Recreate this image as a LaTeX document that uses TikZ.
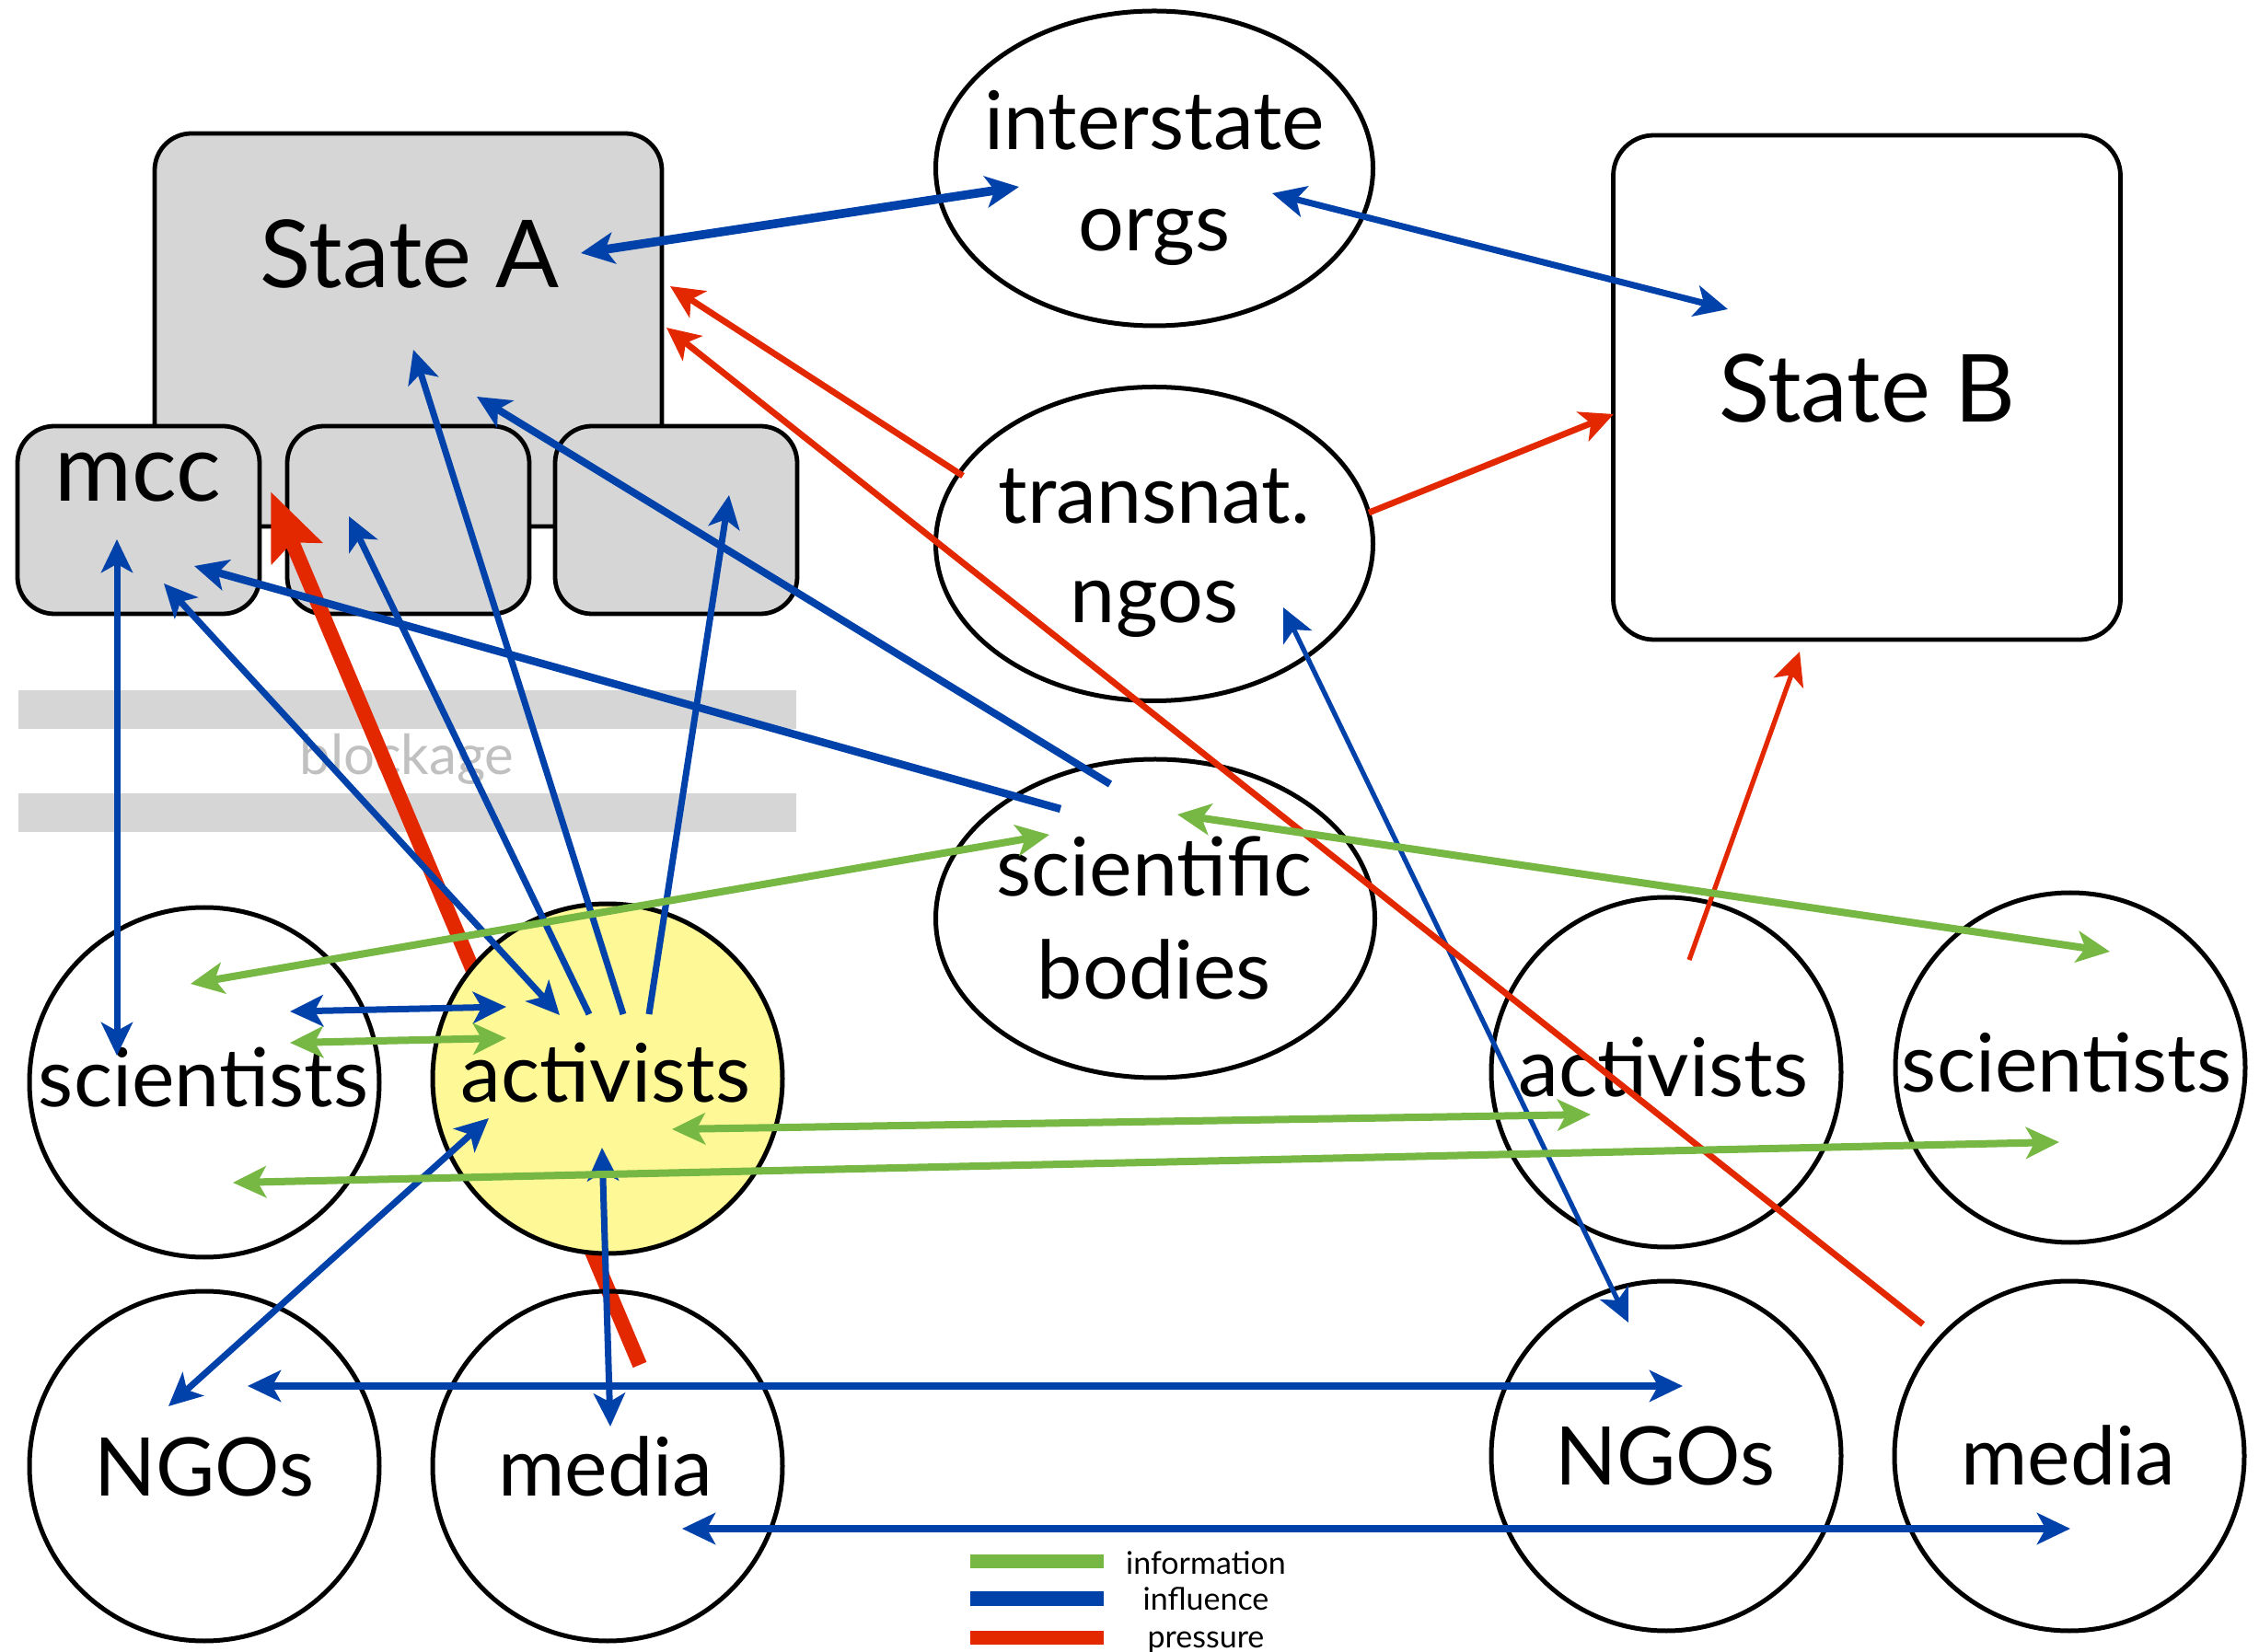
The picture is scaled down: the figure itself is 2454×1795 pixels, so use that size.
\documentclass[tikz,border=0pt]{standalone}
\usepackage{fontspec}
\setmainfont{Lato}
\usetikzlibrary{arrows.meta,shapes.geometric,calc}
\definecolor{cgreen}{RGB}{118,184,67}
\definecolor{cblue}{RGB}{0,65,170}
\definecolor{cred}{RGB}{227,40,0}
\definecolor{cgray}{RGB}{214,214,214}
\definecolor{cyel}{RGB}{254,248,150}
\definecolor{ctxt}{RGB}{192,192,192}
\pgfdeclarelayer{back}
\pgfdeclarelayer{mid}
\pgfsetlayers{back,mid,main}
\begin{document}
\begin{tikzpicture}[x=0.25pt,y=-0.25pt,
  >={Stealth[length=9pt,width=8.5pt,inset=2.3pt]},
  box/.style={draw=black,line width=1.2pt,fill=cgray,rounded corners=10pt,inner sep=0pt},
  oval/.style={draw=black,line width=1.25pt,ellipse,inner sep=0pt},
  circ/.style={oval,minimum width=95pt,minimum height=95pt},
  big/.style={font=\fontsize{25.5}{30}\selectfont,inner sep=0pt,anchor=base},
  lab/.style={font=\fontsize{22}{27.5}\selectfont,inner sep=0pt,anchor=base},
  blu/.style={draw=cblue,line width=1.75pt},
  grn/.style={draw=cgreen,line width=2pt},
  rd/.style={draw=cred,line width=1.7pt},
  band/.style={fill=cgray,inner sep=0pt,minimum width=211.25pt,minimum height=10.5pt},
  key/.style={inner sep=0pt,minimum width=36.25pt,minimum height=3.9pt},
  keytxt/.style={font=\fontsize{8.5}{10}\selectfont,inner sep=0pt,anchor=base}
]
\useasboundingbox (0,0) rectangle (2454,1795);
\begin{pgfonlayer}{back}
\fill[white] (0,0) rectangle (2454,1795);
\node[band] (band1) at (442.5,771) {};
\node[band] (band2) at (442.5,883) {};
\node[font=\fontsize{15}{18}\selectfont,text=ctxt,inner sep=0pt,anchor=base] (blk) at (442,842) {blockage};
\node[box,minimum width=137.75pt,minimum height=106.75pt] (stA) at (443.5,358.5) {};
\node[box,minimum width=65.75pt,minimum height=51pt] (mcc) at (150.5,565) {};
\node[box,minimum width=65.75pt,minimum height=51pt] (mB) at (443.5,565) {};
\node[box,minimum width=65.75pt,minimum height=51pt] (rB) at (734.5,565) {};
\end{pgfonlayer}

\node[big] (stAt) at (445,313) {State A};
\node[big] (mcct) at (150,545) {mcc};

\node[oval,minimum width=118.75pt,minimum height=85.5pt] (inter) at (1254,183) {};
\node[lab] (inter1) at (1254,163) {interstate};
\node[lab] (inter2) at (1254,273) {orgs};
\node[oval,minimum width=118.75pt,minimum height=85.25pt] (trans) at (1254,591) {};
\node[lab] (trans1) at (1254,569) {transnat.};
\node[lab] (trans2) at (1254,677) {ngos};
\node[box,fill=white,rounded corners=11pt,minimum width=137.75pt,minimum height=137pt] (stB) at (2028,421) {};
\node[big] (stBt) at (2028,459) {State B};
\node[oval,minimum width=119.25pt,minimum height=86.5pt] (scib) at (1255,998) {};
\node[lab] (scib1) at (1254,974) {scientific};
\node[lab] (scib2) at (1254,1086) {bodies};

\node[circ] (sciL) at (222,1176) {};
\node[lab] (sciLt) at (221,1203) {scientists};
\node[circ,fill=cyel] (actL) at (660,1172) {};
\node[lab] (actLt) at (658,1198) {activists};
\node[circ] (ngoL) at (222,1593) {};
\node[lab] (ngoLt) at (222,1625) {NGOs};
\node[circ] (medL) at (660,1593) {};
\node[lab] (medLt) at (658,1625) {media};
\node[circ] (actR) at (1810,1165) {};
\node[lab] (actRt) at (1807,1192) {activists};
\node[circ] (sciR) at (2249,1160) {};
\node[lab] (sciRt) at (2245,1187) {scientists};
\node[circ] (ngoR) at (1810,1582) {};
\node[lab] (ngoRt) at (1809,1613) {NGOs};
\node[circ] (medR) at (2248,1582) {};
\node[lab] (medRt) at (2247,1613) {media};

% legend
\node[key,fill=cgreen] (kg) at (1126.5,1696.5) {};
\node[key,fill=cblue] (kb) at (1126.5,1737) {};
\node[key,fill=cred] (kr) at (1126.5,1779.5) {};
\node[keytxt] (kgt) at (1310,1710) {information};
\node[keytxt] (kbt) at (1310,1749) {influence};
\node[keytxt] (krt) at (1310,1790) {pressure};

% thick pressure arrow under the activists circle
\begin{pgfonlayer}{mid}
\draw[draw=cred,line width=4pt,-{Stealth[length=18pt,width=14.5pt,inset=3pt]}] ($(medL)+(35,-110)$) -- ($(mcc)+(143.5,-31)$);
\end{pgfonlayer}

% influence
\draw[blu,line width=2.4pt,<->] ($(stA)+(187.5,-83.5)$) -- ($(inter)+(-147,20)$);
\draw[blu,<->] ($(inter)+(128,27)$) -- ($(stB)+(-151,-85)$);
\draw[blu,->] ($(actL)+(17,-70)$) -- ($(stA)+(5.5,21.5)$);
\draw[blu,->] ($(actL)+(-20,-70)$) -- ($(mB)+(-64.5,-4)$);
\draw[blu,->] ($(actL)+(45,-70)$) -- ($(rB)+(57.5,-27)$);
\draw[blu,<->] ($(mcc)+(27.5,69)$) -- ($(actL)+(-52,-69)$);
\draw[blu,line width=2.1pt,->] ($(scib)+(-103,-119)$) -- ($(mcc)+(60.5,50)$);
\draw[blu,line width=2pt,->] ($(scib)+(-49,-146)$) -- ($(stA)+(74.5,72.5)$);
\draw[blu,<->] ($(mcc)+(-23.5,21)$) -- ($(sciL)+(-95,-29)$);
\draw[blu,<->] ($(sciL)+(93,-77)$) -- ($(actL)+(-110,-78)$);
\draw[blu,<->] ($(actL)+(-129,43)$) -- ($(ngoL)+(-39,-65)$);
\draw[blu,<->] ($(actL)+(-6,75)$) -- ($(medL)+(3,-43)$);
\draw[blu,line width=1.9pt,<->] ($(ngoL)+(47,-87)$) -- ($(ngoR)+(18,-76)$);
\draw[blu,line width=1.9pt,<->] ($(medL)+(81,68)$) -- ($(medR)+(1,79)$);
\draw[blu,line width=1.3pt,<->] ($(trans)+(140,69)$) -- ($(ngoR)+(-41,-145)$);

% pressure
\draw[rd,->] ($(trans)+(-208,-74)$) -- ($(stA)+(284.5,-47.5)$);
\draw[rd,->] ($(medR)+(-159,-143)$) -- ($(stA)+(280.5,-2.5)$);
\draw[rd,->] ($(trans)+(233,-34)$) -- ($(stB)+(-275,29)$);
\draw[rd,line width=1.3pt,->] ($(actR)+(25,-122)$) -- ($(stB)+(-73,287)$);

% information
\draw[grn,<->] ($(sciL)+(-15,-107)$) -- ($(scib)+(-115,-91)$);
\draw[grn,<->] ($(scib)+(24,-113)$) -- ($(sciR)+(43,-126)$);
\draw[grn,<->] ($(actL)+(70,55)$) -- ($(actR)+(-82,46)$);
\draw[grn,<->] ($(sciL)+(31,109)$) -- ($(sciR)+(-12,81)$);
\draw[grn,<->] ($(sciL)+(93,-43)$) -- ($(actL)+(-110,-44)$);
\end{tikzpicture}
\end{document}
